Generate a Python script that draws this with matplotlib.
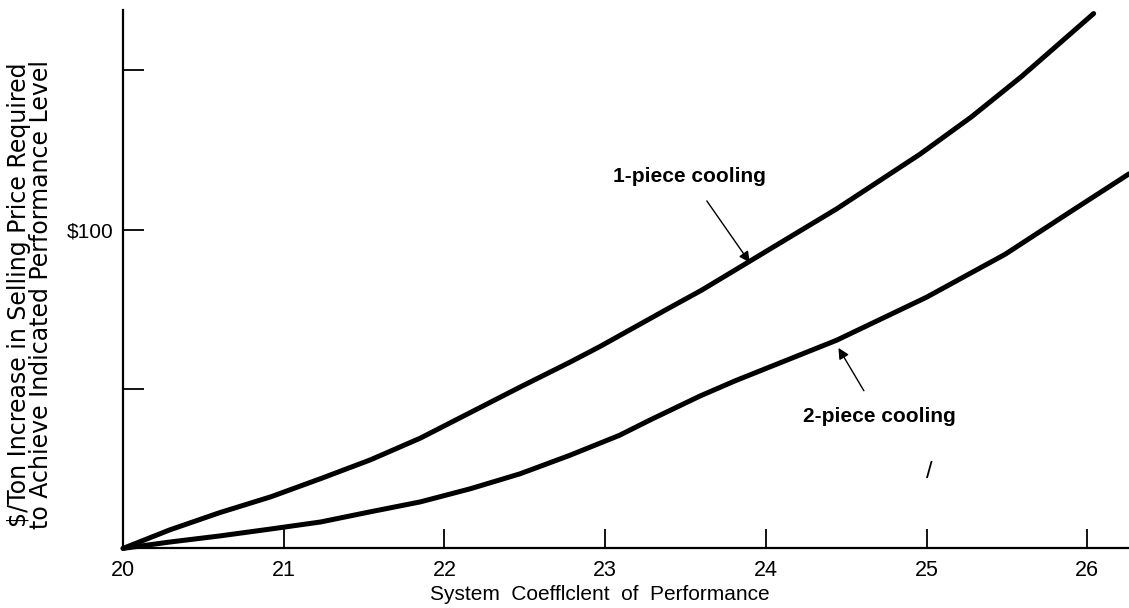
import matplotlib
matplotlib.use("Agg")
import matplotlib.pyplot as plt

# values ($/ton vs system COP)
cop_one = [20.0, 20.29, 20.60, 20.92, 21.23, 21.54, 21.85, 22.16, 22.47, 22.78,
           22.97, 23.39, 23.60, 23.90, 24.44, 24.96, 25.28, 25.59, 26.04]
cost_one = [0, 5.8, 11.2, 16.2, 21.9, 27.8, 34.6, 42.6, 50.6, 58.4,
            63.4, 75.2, 81.0, 90.1, 106.5, 123.7, 135.4, 148.0, 167.8]

cop_two = [20.0, 20.29, 20.60, 20.92, 21.23, 21.54, 21.85, 22.16, 22.47, 22.78,
           23.09, 23.28, 23.59, 23.81, 24.44, 25.00, 25.49, 25.91, 26.26]
cost_two = [0, 2.0, 3.9, 6.1, 8.3, 11.5, 14.6, 18.7, 23.4, 29.2,
            35.5, 40.3, 47.8, 52.6, 65.3, 78.8, 92.3, 106.1, 117.5]

x_ticks = [20, 21, 22, 23, 24, 25, 26]
x_labels = ['20', '21', '22', '23', '24', '25', '26']
y_ticks = [50, 100, 150]
y_labels = ['', '$100', '']

plt.rcParams['font.family'] = ['Liberation Sans', 'DejaVu Sans']

fig = plt.figure(figsize=(11.29, 6.08), dpi=100)
ax = fig.add_axes([0.109, 0.098, 0.891, 0.886])

ax.plot(cop_one, cost_one, color='black', lw=3.6, solid_capstyle='round',
        solid_joinstyle='round', clip_on=False)
ax.plot(cop_two, cost_two, color='black', lw=3.6, solid_capstyle='round',
        solid_joinstyle='round', clip_on=False)

ax.set_xlim(20, 26.26)
ax.set_ylim(0, 169)

for s in ['top', 'right']:
    ax.spines[s].set_visible(False)
for s in ['left', 'bottom']:
    ax.spines[s].set_linewidth(1.6)

ax.set_xticks(x_ticks)
ax.set_xticklabels(x_labels, fontsize=15.5)
ax.set_yticks(y_ticks)
ax.set_yticklabels(y_labels, fontsize=15)
ax.tick_params(axis='x', direction='in', length=13.5, width=1.3, pad=8)
ax.tick_params(axis='y', direction='in', length=15, width=1.3, pad=7)

ax.set_xlabel('System  Coefflclent  of  Performance', fontsize=15)
ax.xaxis.set_label_coords(0.474, -0.068)
ax.set_ylabel('$/Ton Increase in Selling Price Required\nto Achieve Indicated Performance Level',
              fontsize=17, fontfamily='DejaVu Sans', linespacing=0.9, va='center')
ax.yaxis.set_label_coords(-0.0924, 0.471)

ax.annotate('1-piece cooling', xy=(23.90, 89.7), xytext=(23.525, 116.8),
            fontsize=15, fontweight='bold', ha='center', va='center',
            arrowprops=dict(arrowstyle='-|>', color='black', lw=1.0,
                            shrinkA=11, shrinkB=0, mutation_scale=16))
ax.annotate('2-piece cooling', xy=(24.452, 62.9), xytext=(24.704, 41.5),
            fontsize=15, fontweight='bold', ha='center', va='center',
            arrowprops=dict(arrowstyle='-|>', color='black', lw=1.0,
                            shrinkA=11, shrinkB=0, mutation_scale=16))
ax.text(25.02, 24.1, '/', fontsize=17, ha='center', va='center')

fig.savefig('out.png', dpi=100)
